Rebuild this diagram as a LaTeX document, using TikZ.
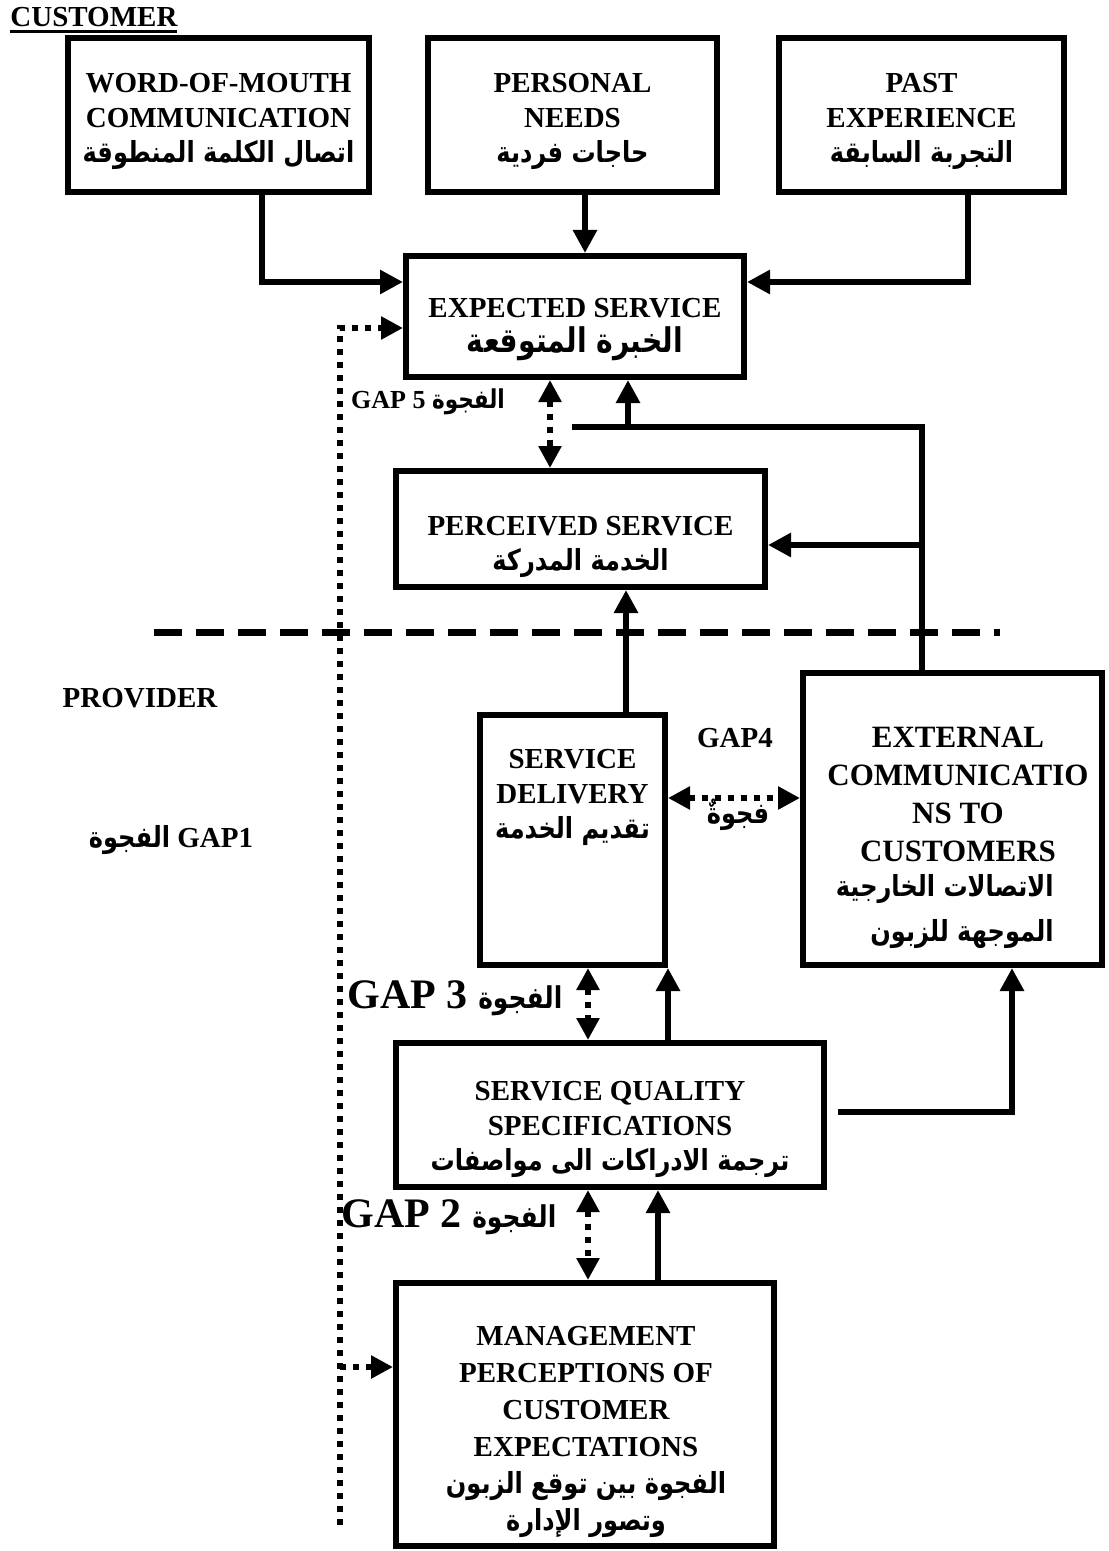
\documentclass[tikz,border=0pt]{standalone}
\usepackage{fontspec}
\setmainfont{Liberation Serif}
\newfontfamily\arabicfont[Script=Arabic, FakeStretch=0.83]{DejaVu Sans}
\TeXXeTstate=1
\usetikzlibrary{arrows.meta,positioning}
\newcommand{\artxt}[1]{{\arabicfont\bfseries\beginR #1\endR}}
\newcommand{\thickul}[1]{\setbox0\hbox{#1}\rlap{\copy0}\rule[-2.8pt]{\wd0}{1.4pt}}

\begin{document}
\begin{tikzpicture}[
    x=0.5pt, y=-0.5pt,
    box/.style={draw, line width=3pt, inner sep=0pt},
    lbl/.style={align=center, inner sep=0pt, font=\bfseries\fontsize{14.5}{17.5}\selectfont},
    arr/.style={line width=3pt, -{Triangle[length=11.5pt,width=11.5pt]}},
    twoway/.style={line width=3pt, dash pattern=on 3pt off 3.5pt, {Triangle[length=11pt,width=11pt]}-{Triangle[length=11pt,width=11pt]}},
    dotarr/.style={line width=3pt, dash pattern=on 3pt off 3.5pt, -{Triangle[length=11pt,width=11pt]}},
    plain/.style={line width=3pt},
    sep/.style={line width=3.5pt, dash pattern=on 14pt off 7pt}
]
    \useasboundingbox (0,0) rectangle (1108,1551);

    % customer side
    \node[lbl, anchor=base west] (cust) at (10,27) {\thickul{CUSTOMER}};
    \node[box, minimum width=150.5pt, minimum height=77pt] (wom) at (218.5,115) {};
    \node[box, minimum width=144.5pt, minimum height=77pt] (pn) at (572.5,115) {};
    \node[box, minimum width=142.5pt, minimum height=77pt] (pe) at (921.5,115) {};
    \node[lbl] (womtxt) at (218.5,121) {WORD-OF-MOUTH\\COMMUNICATION\\\artxt{اتصال الكلمة المنطوقة}};
    \node[lbl] (pntxt) at (572.5,121) {PERSONAL\\NEEDS\\\artxt{حاجات فردية}};
    \node[lbl] (petxt) at (921.5,121) {PAST\\EXPERIENCE\\\artxt{التجربة السابقة}};

    \node[box, minimum width=169pt, minimum height=60.5pt] (exp) at (575,316.5) {};
    \node[lbl] (exptxt) at (575,330) {EXPECTED SERVICE\\{\fontsize{17}{20}\selectfont\artxt{الخبرة المتوقعة}}};
    \node[box, minimum width=184.5pt, minimum height=58pt] (per) at (580.5,529) {};
    \node[lbl] (pertxt) at (580.5,547) {PERCEIVED SERVICE\\\artxt{الخدمة المدركة}};

    \node[lbl, font=\bfseries\fontsize{13}{15}\selectfont] (gapfive) at (428,402) {GAP 5 \artxt{الفجوة}};

    % provider side
    \node[lbl] (prov) at (140,698) {PROVIDER};
    \node[box, minimum width=92.5pt, minimum height=125pt] (sd) at (572.5,840) {};
    \node[lbl] (sdtxt) at (572.5,797) {SERVICE\\DELIVERY\\\artxt{تقديم الخدمة}};
    \node[box, minimum width=149.5pt, minimum height=146pt] (ext) at (952.5,819) {};
    \node[lbl, font=\bfseries\fontsize{15.5}{19}\selectfont] (exttxt) at (958,794) {EXTERNAL\\COMMUNICATIO\\NS TO\\CUSTOMERS};
    \node[lbl, align=right, anchor=east, font=\bfseries\fontsize{14.5}{22.5}\selectfont] (extar) at (1054,912) {\artxt{الاتصالات الخارجية}\\\artxt{الموجهة للزبون}};
    \node[lbl] (gapfour) at (735,738) {GAP4};
    \node[lbl] (gapfourar) at (738,815) {\artxt{فجوةٌ}};

    \node[box, minimum width=214pt, minimum height=72pt] (sqs) at (610,1115) {};
    \node[lbl] (sqstxt) at (610,1129) {SERVICE QUALITY\\SPECIFICATIONS\\\artxt{ترجمة الادراكات الى مواصفات}};
    \node[box, minimum width=189pt, minimum height=131.5pt] (mpce) at (585,1414.5) {};
    \node[lbl, font=\bfseries\fontsize{14.5}{18.5}\selectfont] (mpcetxt) at (586,1432) {MANAGEMENT\\PERCEPTIONS OF\\CUSTOMER\\EXPECTATIONS\\\artxt{الفجوة بين توقع الزبون}\\\artxt{وتصور الإدارة}};

    \node[lbl, font=\bfseries\fontsize{21}{23}\selectfont] (gapthree) at (455,998) {GAP 3 {\fontsize{15}{17}\selectfont\artxt{الفجوة}}};
    \node[lbl, font=\bfseries\fontsize{21}{23}\selectfont] (gaptwo) at (449,1217) {GAP 2 {\fontsize{15}{17}\selectfont\artxt{الفجوة}}};
    \node[lbl] (gapone) at (171,840) {\artxt{الفجوة} GAP1};

    % turning points
    \coordinate (womdrop) at (262,282);
    \coordinate (pndrop) at (585,0);
    \coordinate (pedrop) at (968,282);
    \coordinate (gaptop) at (340,328);
    \coordinate (gapmid) at (340,1367);
    \coordinate (gapbot) at (340,1525);
    \coordinate (fivex) at (550,0);
    \coordinate (expin) at (628,427);
    \coordinate (extup) at (922,427);
    \coordinate (extleft) at (572,427);
    \coordinate (perin) at (922,545);
    \coordinate (sdup) at (626,0);
    \coordinate (fourx) at (0,798);
    \coordinate (lowgapx) at (588,0);
    \coordinate (extdrop) at (1012,1112);
    \coordinate (sqsout) at (838,1112);
    \coordinate (mpceup) at (658,0);
    \coordinate (sepl) at (154,632);
    \coordinate (sepr) at (1000,632);

    % connectors
    \draw[arr] (wom.south -| womdrop) |- (exp.west |- womdrop);
    \draw[arr] (pn.south -| pndrop) -- (exp.north -| pndrop);
    \draw[arr] (pe.south -| pedrop) |- (exp.east |- pedrop);

    \draw[dotarr] (gapbot) -- (gaptop) -- (exp.west |- gaptop);
    \draw[dotarr] (gapmid) -- (mpce.west |- gapmid);

    \draw[twoway] (exp.south -| fivex) -- (per.north -| fivex);
    \draw[plain] (ext.north -| extup) -- (extup) -- (extleft);
    \draw[arr] (expin) -- (exp.south -| expin);
    \draw[arr] (perin) -- (per.east |- perin);

    \draw[sep] (sepl) -- (sepr);

    \draw[arr] (sd.north -| sdup) -- (per.south -| sdup);
    \draw[twoway] (sd.east |- fourx) -- (ext.west |- fourx);
    \draw[twoway] (sd.south -| lowgapx) -- (sqs.north -| lowgapx);
    \draw[arr] (sqs.north -| sd.east) -- (sd.south east);
    \draw[arr] (sqsout) -- (extdrop) -- (ext.south -| extdrop);
    \draw[twoway] (sqs.south -| lowgapx) -- (mpce.north -| lowgapx);
    \draw[arr] (mpce.north -| mpceup) -- (sqs.south -| mpceup);
\end{tikzpicture}
\end{document}
